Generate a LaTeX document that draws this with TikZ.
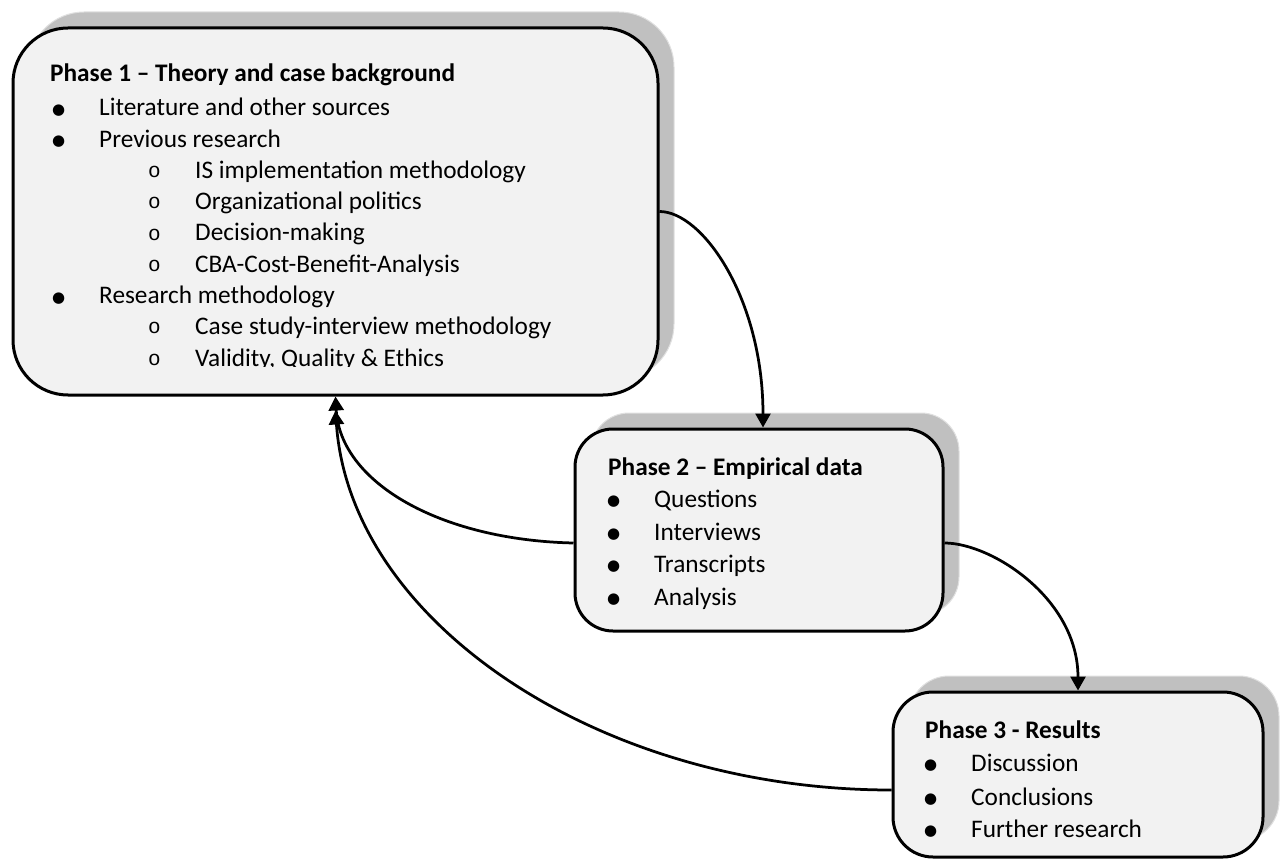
\documentclass[tikz,border=0pt]{standalone}
\usepackage{fontspec}
\setmainfont{Carlito}
\newfontfamily\dotfont{DejaVu Sans}
\newfontfamily\ofont{Liberation Mono}
\usetikzlibrary{arrows.meta,shadows}

\definecolor{boxfill}{RGB}{242,242,242}
\definecolor{shadowfill}{RGB}{192,192,192}
\definecolor{shadowedge}{RGB}{224,224,224}

% list markers: filled bullet for the first level, small "o" for the second
\newcommand\bul{\makebox[47pt][l]{\raisebox{1.5pt}{\dotfont\fontsize{15}{15}\selectfont ●}}}
\newcommand\cir{\makebox[47pt][l]{\raisebox{1pt}{\ofont\fontsize{21}{21}\selectfont o}}}

\tikzset{
  phase/.style={draw=black, line width=3pt, fill=boxfill, rounded corners=#1,
    inner sep=0pt,
    general shadow={fill=shadowfill, draw=shadowedge, line width=1pt,
      shadow xshift=16pt, shadow yshift=16pt}},
  ttl/.style={anchor=base west, inner sep=0pt,
    font=\fontsize{25.3}{30}\selectfont\bfseries},
  itm/.style={anchor=base west, inner sep=0pt,
    font=\fontsize{25.3}{30}\selectfont},
  link/.style={line width=2.75pt, -{Triangle[width=15pt,length=14pt]}}
}

\begin{document}
\begin{tikzpicture}[x=1pt,y=-1pt]
\useasboundingbox (0,0) rectangle (1283,861);

% the three phase boxes
\node[phase=55pt, minimum width=645pt, minimum height=367pt] (b1) at (335.5,211.5) {};
\node[phase=38pt, minimum width=368pt, minimum height=202pt] (b2) at (759,530) {};
\node[phase=40pt, minimum width=370pt, minimum height=165pt] (b3) at (1078,774.5) {};

% Phase 1 contents; the text frame cuts off below the last baseline
\begin{scope}
\clip (0,0) rectangle (700,366.5);
\node[ttl] (t1) at (50,82) {Phase 1 – Theory and case background};
\foreach \y/\x/\t [count=\i] in {
  116/52/{\bul Literature and other sources},
  147.25/52/{\bul Previous research},
  178.5/148/{\cir IS implementation methodology},
  209.75/148/{\cir Organizational politics},
  241/148/{\cir Decision-making},
  272.25/148/{\cir CBA-Cost-Benefit-Analysis},
  303.5/52/{\bul Research methodology},
  334.75/148/{\cir Case study-interview methodology},
  366/148/{\cir Validity, Quality \& Ethics}}
  \node[itm] (p1l\i) at (\x,\y) {\t};
\end{scope}

% Phase 2 contents
\node[ttl] (t2) at (608,475) {Phase 2 – Empirical data};
\foreach \y/\t [count=\i] in {507/Questions, 540/Interviews, 572/Transcripts, 605/Analysis}
  \node[itm] (p2l\i) at (607,\y) {\bul\t};

% Phase 3 contents
\node[ttl] (t3) at (925,738) {Phase 3 - Results};
\foreach \y/\t [count=\i] in {771/Discussion, 805/Conclusions, 837/Further research}
  \node[itm] (p3l\i) at (924,\y) {\bul\t};

% connector end points on the box borders
\coordinate (b2top) at ([xshift=4pt]b2.north);
\coordinate (b2r) at ([yshift=-13pt]b2.east);
\coordinate (b2l) at ([yshift=-13pt]b2.west);
\coordinate (b3l) at ([yshift=-15.5pt]b3.west);
\coordinate (b1low) at ([yshift=-14pt]b1.south);

% flow between the phases
\draw[link] (b1.east) .. controls +(43,0) and +(0,-129) .. (b2top);
\draw[link] (b2r) .. controls +(47,0) and +(0,-92) .. (b3.north);
\draw[link] (b2l) .. controls +(-135,-3) and +(4.5,85) .. (b1.south);
\draw[link] (b3l) .. controls +(-293,0) and +(14.5,211) .. (b1low);
\end{tikzpicture}
\end{document}
